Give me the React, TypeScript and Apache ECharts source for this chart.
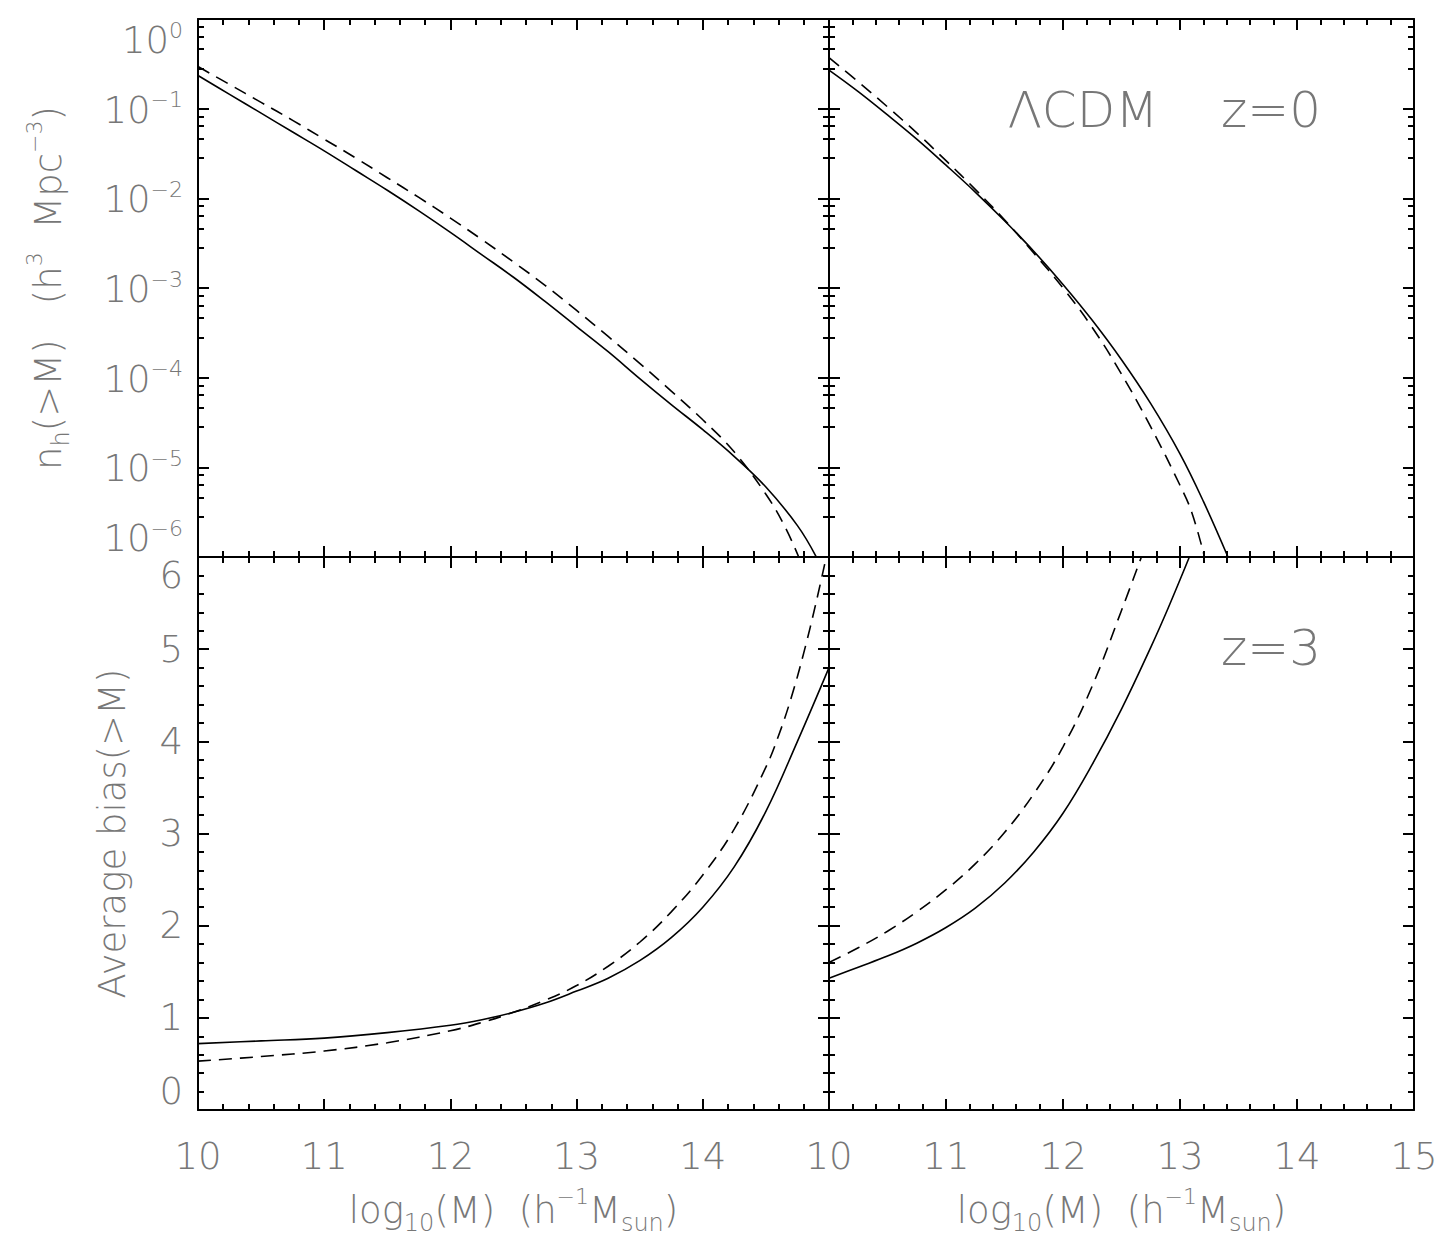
import React, { useEffect, useRef } from 'react';
import * as echarts from 'echarts';

// ---------- data ----------
// Top-left: cumulative halo number density n_h(>M), z = 0
const tlSolidM = [10.0, 10.25, 10.5, 10.75, 11.0, 11.25, 11.5, 11.75, 12.0, 12.25, 12.5, 12.75, 13.0, 13.25, 13.5, 13.75, 14.0, 14.25, 14.5, 14.75, 14.9];
const tlSolidN = [0.2344, 0.1445, 0.0891, 0.05495, 0.03388, 0.02042, 0.0123, 0.007244, 0.004169, 0.002344, 0.001318, 7.08e-4, 3.715e-4, 1.95e-4, 9.77e-5, 5.01e-5, 2.63e-5, 1.318e-5, 6.03e-6, 2.24e-6, 1.0e-6];
const tlDashM = [10.0, 10.25, 10.5, 10.75, 11.0, 11.25, 11.5, 11.75, 12.0, 12.25, 12.5, 12.75, 13.0, 13.25, 13.5, 13.75, 14.0, 14.25, 14.5, 14.65, 14.76];
const tlDashN = [0.2951, 0.1862, 0.1175, 0.07413, 0.0457, 0.02818, 0.01698, 0.01023, 0.006026, 0.003467, 0.00195, 0.001072, 5.62e-4, 2.884e-4, 1.445e-4, 7.08e-5, 3.39e-5, 1.479e-5, 5.01e-6, 2.19e-6, 1.0e-6];

// Top-right: n_h(>M), z = 3
const trSolidM = [10.0, 10.25, 10.5, 10.75, 11.0, 11.25, 11.5, 11.75, 12.0, 12.25, 12.5, 12.75, 13.0, 13.2, 13.41];
const trSolidN = [0.2692, 0.1549, 0.0851, 0.0457, 0.02344, 0.01175, 0.005623, 0.00257, 0.001096, 4.365e-4, 1.585e-4, 5.13e-5, 1.413e-5, 4.17e-6, 1.0e-6];
const trDashM = [10.0, 10.25, 10.5, 10.75, 11.0, 11.25, 11.5, 11.75, 12.0, 12.25, 12.5, 12.75, 13.0, 13.1, 13.21];
const trDashN = [0.3715, 0.1995, 0.1047, 0.0537, 0.0263, 0.01259, 0.005754, 0.002455, 0.001, 3.63e-4, 1.096e-4, 2.818e-5, 6.31e-6, 3.16e-6, 1.0e-6];

// Bottom-left: average bias(>M), z = 0
const blSolidM = [10.0, 10.5, 11.0, 11.5, 12.0, 12.25, 12.5, 12.75, 13.0, 13.25, 13.5, 13.75, 14.0, 14.25, 14.5, 14.75, 15.0];
const blSolidB = [0.72, 0.75, 0.78, 0.84, 0.92, 0.98, 1.06, 1.16, 1.29, 1.43, 1.62, 1.87, 2.2, 2.64, 3.24, 4.0, 4.8];
const blDashM = [10.0, 10.5, 11.0, 11.5, 12.0, 12.25, 12.5, 12.75, 13.0, 13.25, 13.5, 13.75, 14.0, 14.25, 14.5, 14.6, 14.7, 14.8, 14.9, 15.0];
const blDashB = [0.53, 0.58, 0.64, 0.73, 0.86, 0.95, 1.06, 1.19, 1.35, 1.56, 1.82, 2.15, 2.55, 3.05, 3.72, 4.06, 4.47, 4.96, 5.52, 6.14];

// Bottom-right: average bias(>M), z = 3
const brSolidM = [10.0, 10.25, 10.5, 10.75, 11.0, 11.25, 11.5, 11.75, 12.0, 12.25, 12.5, 12.75, 12.9, 13.08];
const brSolidB = [1.43, 1.55, 1.67, 1.81, 1.98, 2.19, 2.46, 2.8, 3.22, 3.75, 4.35, 5.02, 5.45, 6.0];
const brDashM = [10.0, 10.25, 10.5, 10.75, 11.0, 11.25, 11.5, 11.75, 12.0, 12.25, 12.5, 12.67];
const brDashB = [1.6, 1.76, 1.94, 2.15, 2.39, 2.67, 3.01, 3.43, 3.94, 4.6, 5.42, 6.0];

// axis ranges / tick settings
const massRange = [10, 15];
const densityRange = [1e-6, 1];
const biasRange = [0, 6];
const logMinorMultipliers = [2.8, 4.6, 6.4, 8.2];

// ---------- styles ----------
const AXIS = '#000000';
const TEXT = '#777777';
const FONT = "'DejaVu Sans', 'Liberation Sans', sans-serif";
const FW = 200;

const frames = [
  { left: 198, top: 19, width: 631, height: 538 },
  { left: 829, top: 19, width: 585, height: 538 },
  { left: 198, top: 557, width: 631, height: 553 },
  { left: 829, top: 557, width: 585, height: 553 },
];

const lineAxis = { show: true, onZero: false, lineStyle: { color: AXIS, width: 2 } };
const majorTick = { show: true, inside: true, length: 11, lineStyle: { color: AXIS, width: 2 } };
const minorTick = { show: true, splitNumber: 5, length: 6, lineStyle: { color: AXIS, width: 2 } };

const mainRich = {
  t: { fontSize: 37, lineHeight: 50, verticalAlign: 'middle', color: TEXT, fontFamily: FONT, fontWeight: FW },
  sub: { fontSize: 24, lineHeight: 24, verticalAlign: 'bottom', color: TEXT, fontFamily: FONT, fontWeight: FW },
  sup: { fontSize: 22, lineHeight: 22, verticalAlign: 'top', color: TEXT, fontFamily: FONT, fontWeight: FW },
};

const xTitle = '{t|log}{sub|10}{t|(M)  (h}{sup|\u22121}{t|M}{sub|sun}{t|)}';
const topTitle = '{t|n}{sub|h}{t|(>M)   (h}{sup|3}{t|  Mpc}{sup|\u22123}{t|)}';
const bottomTitle = '{t|Average bias(>M)}';

function buildOption() {
  const xAxis: any[] = [];
  const yAxis: any[] = [];
  const seriesAxes: { x: number; y: number }[] = [];

  frames.forEach((_, g) => {
    const isBottom = g >= 2;
    const isLeft = g % 2 === 0;
    const xi = xAxis.length;
    xAxis.push({
      type: 'value', gridIndex: g, position: 'bottom', min: massRange[0], max: massRange[1], interval: 1,
      axisLine: lineAxis, axisTick: majorTick, minorTick, splitLine: { show: false }, minorSplitLine: { show: false },
      axisLabel: {
        show: isBottom, margin: 28, color: TEXT, fontSize: 37, fontFamily: FONT, fontWeight: FW,
        showMaxLabel: !isLeft, showMinLabel: true,
      },
      name: isBottom ? xTitle : '', nameLocation: 'middle', nameGap: 75,
      nameTextStyle: { rich: mainRich, color: TEXT, fontFamily: FONT },
    });
    xAxis.push({
      type: 'value', gridIndex: g, position: 'top', min: massRange[0], max: massRange[1], interval: 1,
      axisLine: lineAxis, axisTick: majorTick, minorTick, splitLine: { show: false },
      axisLabel: { show: false },
    });

    if (!isBottom) {
      const yi = yAxis.length;
      const logLabel = {
        show: isLeft, margin: 15, color: TEXT, fontFamily: FONT,
        verticalAlignMaxLabel: 'top', verticalAlignMinLabel: 'bottom',
        formatter: (v: number) => {
          const e = Math.round(Math.log10(v));
          return '{b|10}{s|' + (e === 0 ? '0' : '\u2212' + Math.abs(e)) + '}';
        },
        rich: {
          b: { fontSize: 37, lineHeight: 40, verticalAlign: 'bottom', color: TEXT, fontFamily: FONT, fontWeight: FW },
          s: { fontSize: 22, lineHeight: 16, verticalAlign: 'top', color: TEXT, fontFamily: FONT, fontWeight: FW },
        },
      };
      const minorVals: number[] = [];
      for (let d = -6; d < 0; d++) logMinorMultipliers.forEach((k) => minorVals.push(Math.log10(k) + d));
      ['left', 'right'].forEach((pos) => {
        yAxis.push({
          type: 'log', logBase: 10, gridIndex: g, position: pos, min: densityRange[0], max: densityRange[1],
          axisLine: lineAxis, axisTick: majorTick, minorTick: { show: false }, splitLine: { show: false },
          axisLabel: pos === 'left' ? logLabel : { show: false },
          name: pos === 'left' && isLeft ? topTitle : '', nameLocation: 'middle', nameRotate: 90, nameGap: 125,
          nameTextStyle: { rich: mainRich, color: TEXT, fontFamily: FONT },
        });
        yAxis.push({
          type: 'value', gridIndex: g, position: pos, min: -6, max: 0,
          axisLine: { show: false }, splitLine: { show: false },
          axisTick: { show: true, inside: true, length: 6, customValues: minorVals, lineStyle: { color: AXIS, width: 2 } },
          axisLabel: { show: false },
        });
      });
      seriesAxes.push({ x: xi, y: yi });
    } else {
      const yi = yAxis.length;
      ['left', 'right'].forEach((pos) => {
        yAxis.push({
          type: 'value', gridIndex: g, position: pos, min: biasRange[0], max: biasRange[1], interval: 1,
          axisLine: lineAxis, axisTick: majorTick, minorTick, splitLine: { show: false }, minorSplitLine: { show: false },
          axisLabel: pos === 'left' && isLeft
            ? { show: true, margin: 15, color: TEXT, fontSize: 37, fontFamily: FONT, fontWeight: FW,
                verticalAlignMaxLabel: 'top', verticalAlignMinLabel: 'bottom' }
            : { show: false },
          name: pos === 'left' && isLeft ? bottomTitle : '', nameLocation: 'middle', nameRotate: 90, nameGap: 61,
          nameTextStyle: { rich: mainRich, color: TEXT, fontFamily: FONT },
        });
      });
      seriesAxes.push({ x: xi, y: yi });
    }
  });

  const mk = (name: string, g: number, xs: number[], ys: number[], dashed: boolean) => ({
    name, type: 'line', xAxisIndex: seriesAxes[g].x, yAxisIndex: seriesAxes[g].y,
    data: xs.map((x, i) => [x, ys[i]]), showSymbol: false, symbol: 'none',
    smooth: 0.4, clip: true,
    lineStyle: { color: '#000', width: 1.6, type: dashed ? [13, 8] : 'solid' },
    emphasis: { disabled: true }, silent: true, z: 3,
  });

  const series = [
    mk('n(>M) z=0 solid', 0, tlSolidM, tlSolidN, false),
    mk('n(>M) z=0 dashed', 0, tlDashM, tlDashN, true),
    mk('n(>M) z=3 solid', 1, trSolidM, trSolidN, false),
    mk('n(>M) z=3 dashed', 1, trDashM, trDashN, true),
    mk('bias z=0 solid', 2, blSolidM, blSolidB, false),
    mk('bias z=0 dashed', 2, blDashM, blDashB, true),
    mk('bias z=3 solid', 3, brSolidM, brSolidB, false),
    mk('bias z=3 dashed', 3, brDashM, brDashB, true),
  ];

  const annot = (text: string, x: number, y: number) => ({
    type: 'text', x, y, z: 10,
    style: { text, fill: TEXT, fontSize: 50, fontFamily: FONT, fontWeight: FW, align: 'center', verticalAlign: 'middle' },
  });

  return {
    animation: false,
    backgroundColor: '#ffffff',
    grid: frames.map((f) => ({ ...f, containLabel: false, outerBoundsMode: 'none', show: false })),
    xAxis,
    yAxis,
    series,
    graphic: [annot('\u039BCDM', 1083, 110), annot('z=0', 1271, 110), annot('z=3', 1271, 648)],
  };
}

export default function App() {
  const ref = useRef<HTMLDivElement>(null);
  useEffect(() => {
    if (!ref.current) return;
    const chart = echarts.init(ref.current, undefined, { renderer: 'svg' });
    chart.setOption(buildOption() as any);
    return () => chart.dispose();
  }, []);
  return (
    <div
      ref={ref}
      style={{ position: 'fixed', left: 0, top: 0, width: 1448, height: 1249, background: '#fff' }}
    />
  );
}
